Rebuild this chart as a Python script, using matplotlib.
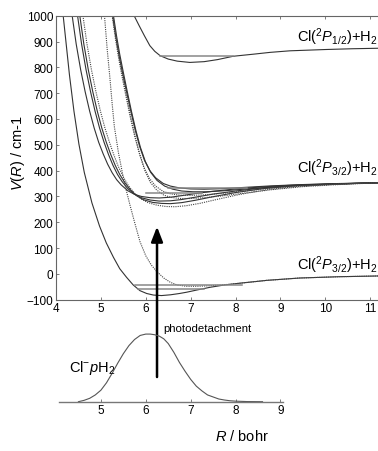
import matplotlib
matplotlib.use("Agg")
import matplotlib.pyplot as plt

plt.rcParams['font.family'] = ['Liberation Sans', 'DejaVu Sans']
plt.rcParams['mathtext.fontset'] = 'custom'
plt.rcParams['mathtext.rm'] = 'Liberation Sans'
plt.rcParams['mathtext.it'] = 'Liberation Sans:italic'
plt.rcParams['mathtext.bf'] = 'Liberation Sans:bold'

# ---------------- data ----------------
# ground Cl(2P3/2)+H2(j=0) curve (solid)
g_R = [4.16, 4.3, 4.4, 4.51, 4.63, 4.8, 4.97, 5.12, 5.28, 5.42, 5.57, 5.72, 5.87, 6.02, 6.17,
       6.35, 6.55, 6.75, 6.91, 7.15, 7.43, 7.75, 8.1, 8.7, 9.43, 10.3, 11.2]
g_V = [1000, 770, 630, 503, 393, 275, 185, 120, 64, 20, -13, -43, -65, -76, -82,
       -84, -81, -76, -71, -62, -52, -43, -36, -25, -16, -11, -8]
# ground-asymptote dotted curve
d1_R = [5.08, 5.14, 5.2, 5.25, 5.3, 5.39, 5.48, 5.57, 5.65, 5.75, 5.87, 6.0, 6.12, 6.24, 6.4,
        6.55, 6.7, 6.9, 7.15, 7.43, 7.75, 8.1, 8.7, 9.43, 10.3, 11.2]
d1_V = [1000, 870, 760, 660, 570, 470, 390, 320, 265, 200, 125, 70, 35, 10, -16,
        -33, -43, -48, -48, -46, -42, -36, -25, -16, -11, -8]

# Cl(2P3/2)+H2(j=2) band, solid curves
m1_R = [4.36, 4.45, 4.55, 4.65, 4.75, 4.85, 4.95, 5.05, 5.15, 5.25, 5.35, 5.45, 5.6, 5.75, 5.9,
        6.1, 6.3, 6.55, 6.8, 7.1, 7.5, 8.0, 8.6, 9.3, 10.2, 11.2]
m1_V = [1000, 890, 790, 705, 630, 565, 510, 465, 425, 392, 365, 345, 322, 308, 300,
        295, 294, 297, 303, 311, 320, 329, 337, 344, 349, 353]
m2_R = [4.48, 4.57, 4.67, 4.77, 4.87, 4.97, 5.07, 5.17, 5.27, 5.37, 5.47, 5.6, 5.75, 5.9, 6.1,
        6.3, 6.55, 6.8, 7.1, 7.5, 8.0, 8.6, 9.3, 10.2, 11.2]
m2_V = [1000, 890, 790, 705, 630, 565, 510, 462, 420, 385, 358, 330, 308, 295, 286,
        282, 283, 288, 297, 309, 321, 333, 342, 348, 353]
m3_R = [4.53, 4.62, 4.72, 4.82, 4.92, 5.02, 5.12, 5.22, 5.32, 5.42, 5.52, 5.65, 5.8, 5.95, 6.15,
        6.35, 6.55, 6.8, 7.1, 7.5, 8.0, 8.6, 9.3, 10.2, 11.2]
m3_V = [1000, 890, 790, 705, 630, 565, 510, 462, 420, 385, 357, 327, 302, 287, 277,
        273, 272, 276, 285, 299, 315, 330, 341, 348, 353]
u1_R = [5.26, 5.33, 5.4, 5.48, 5.56, 5.66, 5.76, 5.86, 5.97, 6.09, 6.22, 6.39, 6.55, 6.75, 7.0,
        7.3, 7.7, 8.2, 8.8, 9.5, 10.3, 11.2]
u1_V = [1000, 920, 850, 780, 715, 635, 560, 495, 440, 400, 372, 350, 340, 333, 329,
        328, 330, 335, 341, 346, 350, 353]
u2_R = [5.28, 5.35, 5.42, 5.5, 5.58, 5.68, 5.78, 5.88, 5.99, 6.11, 6.25, 6.42, 6.6, 6.8, 7.05,
        7.35, 7.75, 8.25, 8.85, 9.5, 10.3, 11.2]
u2_V = [1000, 920, 850, 780, 712, 630, 555, 490, 435, 393, 362, 340, 328, 321, 318,
        318, 322, 329, 337, 344, 349, 353]
# j=2 band, dotted curves
d2_R = [4.6, 4.69, 4.79, 4.89, 4.99, 5.09, 5.19, 5.29, 5.39, 5.5, 5.62, 5.75, 5.9, 6.05, 6.25,
        6.45, 6.65, 6.9, 7.2, 7.6, 8.1, 8.7, 9.4, 10.2, 11.2]
d2_V = [1000, 890, 790, 705, 630, 565, 510, 460, 415, 375, 340, 312, 290, 276, 266,
        261, 260, 264, 273, 289, 308, 326, 339, 347, 353]
d3_R = [5.25, 5.32, 5.39, 5.47, 5.55, 5.65, 5.75, 5.85, 5.96, 6.08, 6.22, 6.38, 6.55, 6.75, 7.0,
        7.3, 7.7, 8.2, 8.8, 9.5, 10.3, 11.2]
d3_V = [1000, 915, 840, 765, 695, 610, 535, 470, 412, 370, 340, 320, 310, 305, 304,
        306, 312, 321, 332, 341, 348, 353]
d4_R = [5.27, 5.34, 5.41, 5.49, 5.57, 5.67, 5.77, 5.87, 5.98, 6.1, 6.24, 6.4, 6.57, 6.77, 7.0,
        7.3, 7.7, 8.2, 8.8, 9.5, 10.3, 11.2]
d4_V = [1000, 910, 835, 760, 690, 603, 527, 460, 400, 355, 325, 305, 296, 292, 292,
        295, 302, 313, 326, 338, 346, 353]

# Cl(2P1/2)+H2 curve
t_R = [5.74, 5.85, 5.97, 6.09, 6.2, 6.32, 6.5, 6.7, 6.98, 7.3, 7.6, 7.95, 8.4, 8.77, 9.21,
       10.0, 10.6, 11.2]
t_V = [1000, 962, 922, 884, 862, 845, 832, 824, 819, 822, 830, 843, 851, 858, 864,
       869, 872, 874]

# bound levels: energy, R start, R end
lev_E = [-43, -58, 314, 334, 845]
lev_R0 = [5.75, 5.83, 6.0, 6.5, 6.32]
lev_R1 = [8.15, 7.3, 7.25, 8.25, 7.95]

# Cl- pH2 wavefunction
w_R = [4.5, 4.625, 4.75, 4.875, 5.0, 5.125, 5.25, 5.375, 5.5, 5.625, 5.75, 5.875, 6.0, 6.1,
       6.2, 6.3, 6.4, 6.5, 6.625, 6.75, 6.875, 7.0, 7.125, 7.25, 7.375, 7.5, 7.625, 7.75,
       7.875, 8.0, 8.25, 8.6]
w_A = [0.0, 0.02, 0.05, 0.10, 0.17, 0.28, 0.42, 0.57, 0.71, 0.83, 0.92, 0.98, 1.0, 1.0,
       0.99, 0.97, 0.93, 0.86, 0.73, 0.58, 0.45, 0.33, 0.23, 0.16, 0.10, 0.07, 0.04, 0.025,
       0.014, 0.008, 0.002, 0.0]

xticks_main = [4, 5, 6, 7, 8, 9, 10, 11]
yticks_main = [-100, 0, 100, 200, 300, 400, 500, 600, 700, 800, 900, 1000]
xticks_wf = [5, 6, 7, 8, 9]
arrow_R = 6.25

# ---------------- figure ----------------
fig = plt.figure(figsize=(3.78, 4.52), dpi=100)
ax = fig.add_axes([56 / 378, 1 - 300.7 / 452, 322 / 378, 284 / 452])
ax.set_xlim(4, 4 + 322 / 44.9)
ax.set_ylim(-100, 1000)

curve_col = '#333333'
solid_sets = [(g_R, g_V), (m1_R, m1_V), (m2_R, m2_V), (m3_R, m3_V), (u1_R, u1_V), (u2_R, u2_V),
              (t_R, t_V)]
dotted_sets = [(d1_R, d1_V), (d2_R, d2_V), (d3_R, d3_V), (d4_R, d4_V)]
for R, V in solid_sets:
    ax.plot(R, V, color=curve_col, lw=0.8)
for R, V in dotted_sets:
    ax.plot(R, V, color='#444444', lw=0.8, ls=(0, (1, 1)))
for E, r0, r1 in zip(lev_E, lev_R0, lev_R1):
    ax.plot([r0, r1], [E, E], color='#888888', lw=1.1)

for s in ['right']:
    ax.spines[s].set_visible(False)
for s in ['left', 'bottom', 'top']:
    ax.spines[s].set_color('#666666')
    ax.spines[s].set_linewidth(0.8)
ax.set_xticks(xticks_main)
ax.set_yticks(yticks_main)
ax.tick_params(direction='in', length=2.5, width=0.6, labelsize=8.5, top=True, right=False,
               colors='#666666', labelcolor='black', pad=2)

ax.set_ylabel(r'$V(R)$ / cm-1', fontsize=10.5)
ax.yaxis.set_label_coords(-0.09, 0.52)

lab_kw = dict(fontsize=10.5, ha='right', va='center')
ax.text(11.16, 921, r'Cl($^2P_{1/2}$)+H$_2$', **lab_kw)
ax.text(11.16, 414, r'Cl($^2P_{3/2}$)+H$_2$', **lab_kw)
ax.text(11.16, 38, r'Cl($^2P_{3/2}$)+H$_2$', **lab_kw)

# inset: wavefunction
ax2 = fig.add_axes([59 / 378, 1 - 402.7 / 452, 224 / 378, 71 / 452])
ax2.set_facecolor('none')
ax2.plot(w_R, w_A, color='#555555', lw=0.8)
ax2.set_xlim(4.067, 9.056)
ax2.set_ylim(0, 1.05)
for s in ['left', 'right', 'top']:
    ax2.spines[s].set_visible(False)
ax2.spines['bottom'].set_color('#777777')
ax2.spines['bottom'].set_linewidth(1.0)
ax2.set_yticks([])
ax2.set_xticks(xticks_wf)
ax2.tick_params(direction='in', length=2.5, width=0.6, labelsize=8.5, colors='#666666',
                labelcolor='black', pad=2)

ax2.text(4.28, 0.52, r'Cl$^{-}$$p$H$_2$', fontsize=10.5, ha='left', va='center')

ax.annotate('', xy=(arrow_R, 183), xycoords='data',
            xytext=(arrow_R, 0.365), textcoords=ax2.transData,
            arrowprops=dict(arrowstyle='-|>,head_length=0.9,head_width=0.35', lw=1.8,
                            color='black', shrinkA=0, shrinkB=0),
            annotation_clip=False)
fig.text(163 / 378, 1 - 329 / 452, 'photodetachment', fontsize=8.2, ha='left', va='center')
fig.text(242 / 378, 1 - 437 / 452, r'$R$ / bohr', fontsize=10.5, ha='center', va='center')

fig.savefig('out.png', dpi=100)
